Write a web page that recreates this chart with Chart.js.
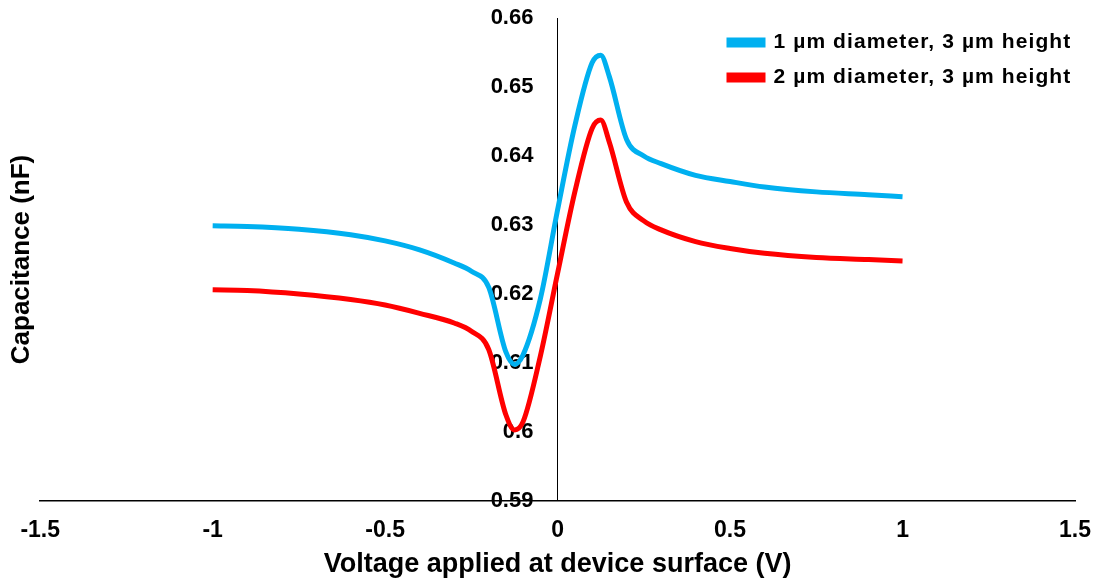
<!DOCTYPE html>
<html>
<head>
<meta charset="utf-8">
<script src="https://cdn.jsdelivr.net/npm/chart.js@4.4.1/dist/chart.umd.min.js"></script>
<style>
  html, body { margin: 0; padding: 0; background: #fff; }
  #wrap { width: 1094px; height: 584px; }
</style>
</head>
<body>
<div id="wrap"><canvas id="chart"></canvas></div>
<script>
// voltage (V)
var voltage = [-1, -0.9, -0.75, -0.6, -0.5, -0.4, -0.3, -0.25, -0.2, -0.15, -0.125, -0.1, -0.05, 0,
               0.05, 0.1, 0.125, 0.15, 0.2, 0.25, 0.3, 0.4, 0.5, 0.6, 0.75, 0.9, 1];
// capacitance (nF)
var cap1um = [0.6299, 0.6298, 0.6294, 0.6286, 0.6277, 0.6264, 0.6245, 0.6233, 0.6210, 0.6116, 0.6098, 0.6112, 0.6193, 0.6322,
              0.6444, 0.6535, 0.6546, 0.6515, 0.6424, 0.6400, 0.6389, 0.6372, 0.6363, 0.6355, 0.6348, 0.6344, 0.6341];
var cap2um = [0.6206, 0.6205, 0.6200, 0.6192, 0.6184, 0.6172, 0.6158, 0.6146, 0.6120, 0.6025, 0.6003, 0.6015, 0.6110, 0.6230,
              0.6348, 0.6440, 0.6452, 0.6420, 0.6333, 0.6306, 0.6293, 0.6276, 0.6266, 0.6259, 0.6253, 0.6250, 0.6248];
var seriesNames = ["1 \u00b5m diameter, 3 \u00b5m height", "2 \u00b5m diameter, 3 \u00b5m height"];
var xTicks = [-1.5, -1, -0.5, 0, 0.5, 1, 1.5];
var yTicks = [0.59, 0.6, 0.61, 0.62, 0.63, 0.64, 0.65, 0.66];

function pts(xs, ys) {
	var out = [];
	for (var i = 0; i < xs.length; i++) out.push({x: xs[i], y: ys[i]});
	return out;
}

var FONT = "'Liberation Sans', Arial, sans-serif";

// legend sits inside the plot, top right, with a little letter spacing
var legendPlace = {
	id: "legendPlace",
	afterLayout: function(chart) {
		var l = chart.legend;
		var w = l.right - l.left, h = l.bottom - l.top;
		l.left = 715; l.right = 715 + w + 40;
		l.top = 18; l.bottom = 18 + h;
		if (!l._spaced) {
			var orig = l.draw;
			l.draw = function() {
				this.ctx.save();
				this.ctx.letterSpacing = "1.1px";
				orig.apply(this, arguments);
				this.ctx.restore();
			};
			l._spaced = true;
		}
	}
};

var ctx = document.getElementById("chart").getContext("2d");
var chart = new Chart(ctx, {
	type: "line",
	data: {
		datasets: [
			{label: seriesNames[0], data: pts(voltage, cap1um), borderColor: "#00B0F0", backgroundColor: "#00B0F0",
			 borderWidth: 5, pointRadius: 0, cubicInterpolationMode: "monotone", yAxisID: "y"},
			{label: seriesNames[1], data: pts(voltage, cap2um), borderColor: "#FF0000", backgroundColor: "#FF0000",
			 borderWidth: 5, pointRadius: 0, cubicInterpolationMode: "monotone", yAxisID: "y"}
		]
	},
	options: {
		responsive: true,
		maintainAspectRatio: false,
		animation: false,
		layout: {padding: {top: 18, right: 0, left: 0, bottom: 0}},
		plugins: {
			tooltip: {enabled: false},
			legend: {
				position: "chartArea",
				align: "start",
				labels: {
					boxWidth: 34, boxHeight: 5, padding: 14, color: "#000",
					font: {family: FONT, size: 21, weight: "bold"}
				}
			}
		},
		scales: {
			x: {
				type: "linear", position: "bottom", min: -1.5, max: 1.5,
				afterBuildTicks: function(s) { s.ticks = xTicks.map(function(v) { return {value: v}; }); },
				afterFit: function(s) { s.height = 83; s.paddingLeft = 0; s.paddingRight = 19; },
				grid: {display: true, drawTicks: false, lineWidth: 1,
					color: function(c) { return c.tick && c.tick.value === 0 ? "#000" : "rgba(0,0,0,0)"; }},
				border: {display: true, color: "#000", width: 1.5},
				ticks: {color: "#000", padding: 16, maxRotation: 0, font: {family: FONT, size: 23, weight: "bold"},
					callback: function(v) { return String(v); }},
				title: {display: true, text: "Voltage applied at device surface (V)", color: "#000",
					padding: {top: 6, bottom: 3}, font: {family: FONT, size: 27, weight: "bold"}}
			},
			y: {
				type: "linear", position: {x: -0.07}, min: 0.59, max: 0.66,
				afterBuildTicks: function(s) { s.ticks = yTicks.map(function(v) { return {value: v}; }); },
				afterFit: function(s) { s.paddingTop = 0; s.paddingBottom = 0; },
				grid: {display: false, drawTicks: false},
				border: {display: false},
				ticks: {color: "#000", font: {family: FONT, size: 22, weight: "bold"},
					callback: function(v) { return String(+v.toFixed(2)); }}
			},
			yTitle: {
				type: "linear", position: "left", min: 0.59, max: 0.66,
				grid: {display: false, drawTicks: false},
				border: {display: false},
				ticks: {display: false},
				title: {display: true, text: "Capacitance (nF)", color: "#000",
					padding: {top: 6, bottom: 3}, font: {family: FONT, size: 26, weight: "bold"}}
			}
		}
	},
	plugins: [legendPlace]
});
</script>
</body>
</html>
